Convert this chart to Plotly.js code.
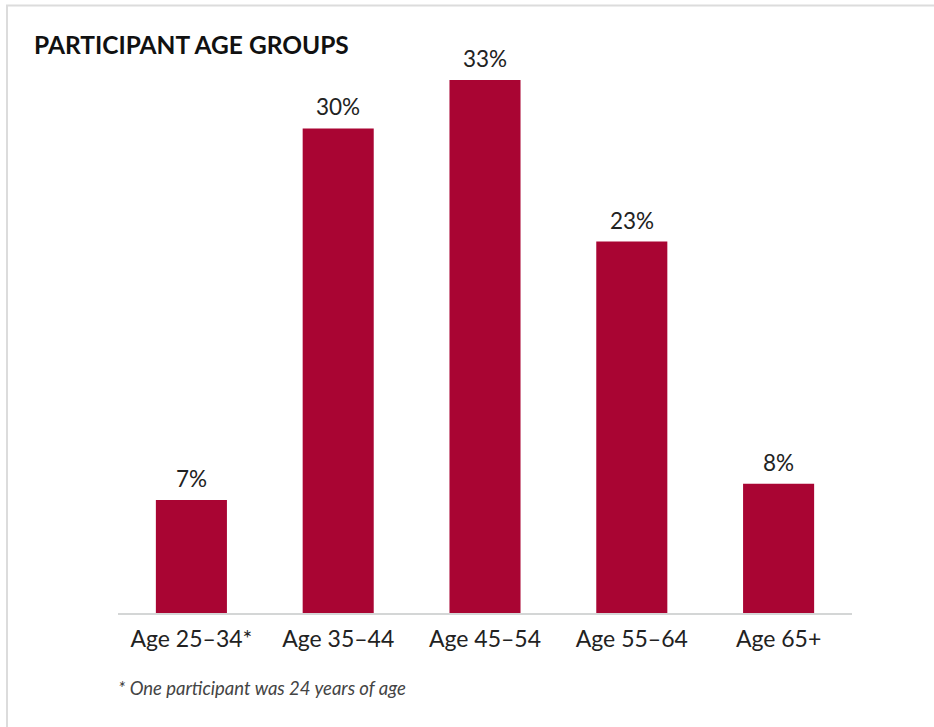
<!DOCTYPE html>
<html>
<head>
<meta charset="utf-8">
<script src="https://cdn.plot.ly/plotly-3.0.1.min.js"></script>
<style>html,body{margin:0;padding:0;background:#fff;}#chart{width:934px;height:727px;}</style>
</head>
<body>
<div id="chart"></div>
<script>
const categories = ["Age 25–34*", "Age 35–44", "Age 45–54", "Age 55–64", "Age 65+"];
const percentValues = [7, 30, 33, 23, 8];
const valueLabels = ["7%", "30%", "33%", "23%", "8%"];
const chartTitle = "PARTICIPANT AGE GROUPS";
const footnote = "* One participant was 24 years of age";

const W = 934, H = 727;
const mL = 118, mR = 82, mT = 60, mB = 114;
const pw = W - mL - mR, ph = H - mT - mB;
const px2x = p => (p - mL) / pw;
const py2y = p => (H - mB - p) / ph;
const FONT = "Lato, 'Open Sans', sans-serif";

const trace = {
  type: "bar",
  x: categories,
  y: percentValues,
  cliponaxis: false,
  marker: {color: "#A90533"},
  width: 0.484,
  hoverinfo: "skip"
};

const valueAnnotations = categories.map((c, i) => ({
  x: c, y: percentValues[i], xref: "x", yref: "y",
  text: valueLabels[i], showarrow: false,
  xanchor: "center", yanchor: "bottom", yshift: 6,
  font: {family: FONT, size: 22.5, color: "#222"}
}));

const layout = {
  width: W, height: H,
  margin: {l: mL, r: mR, t: mT, b: mB, pad: 0},
  paper_bgcolor: "#fff",
  plot_bgcolor: "#fff",
  showlegend: false,
  title: {
    text: "<b>" + chartTitle + "</b>",
    font: {family: FONT, size: 24.5, color: "#111"},
    xref: "container", yref: "container",
    x: 34 / W, xanchor: "left",
    y: 1 - 45 / H, yanchor: "middle"
  },
  xaxis: {
    type: "category",
    range: [-0.5, 4.5],
    showgrid: false, zeroline: false,
    showline: true, linecolor: "#d4d6d6", linewidth: 2,
    ticks: "", ticklabelstandoff: 4,
    tickfont: {family: FONT, size: 23, color: "#222"},
    fixedrange: true
  },
  yaxis: {
    range: [0, ph / (533 / 33)],
    visible: false, showgrid: false, zeroline: false,
    fixedrange: true
  },
  annotations: valueAnnotations.concat([{
    text: "<i>" + footnote + "</i>",
    xref: "paper", yref: "paper",
    x: px2x(116), xanchor: "left",
    y: py2y(688), yanchor: "middle",
    showarrow: false,
    font: {family: FONT, size: 18.5, color: "#444"}
  }]),
  shapes: [
    {type: "line", xref: "paper", yref: "paper", x0: px2x(6), x1: px2x(W + 2), y0: py2y(5.5), y1: py2y(5.5), line: {color: "#dcdcdc", width: 2}},
    {type: "line", xref: "paper", yref: "paper", x0: px2x(7), x1: px2x(7), y0: py2y(5), y1: py2y(H + 2), line: {color: "#dcdcdc", width: 2}}
  ]
};

Plotly.newPlot("chart", [trace], layout, {displayModeBar: false, staticPlot: true});
</script>
</body>
</html>
